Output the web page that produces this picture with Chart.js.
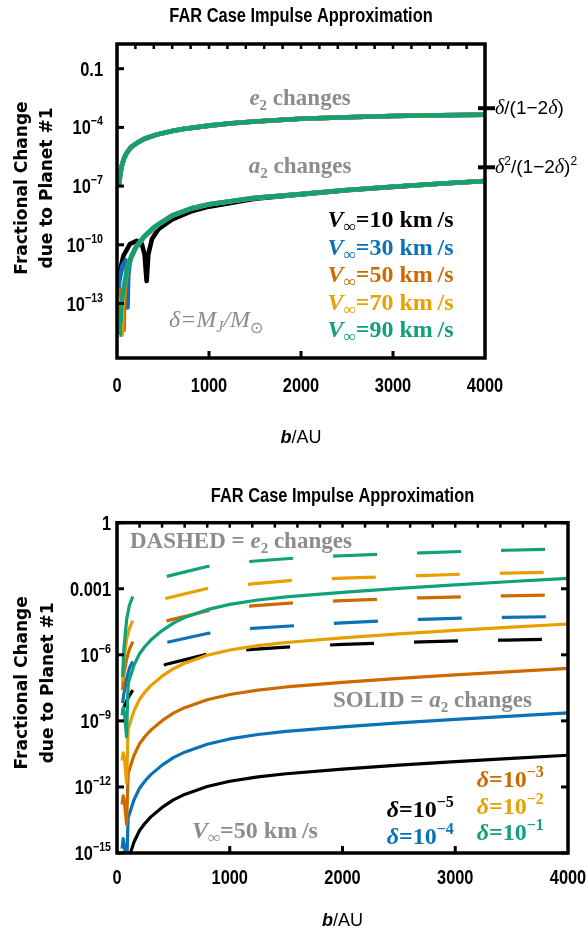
<!DOCTYPE html>
<html>
<head>
<meta charset="utf-8">
<script src="https://cdn.jsdelivr.net/npm/chart.js@4.4.1/dist/chart.umd.min.js"></script>
<style>
html, body { margin: 0; padding: 0; background: #fff; }
#wrap { position: relative; width: 587px; height: 932px; }
canvas { position: absolute; left: 0; }
</style>
</head>
<body>
<div id="wrap">
<canvas id="topChart" width="587" height="470" style="top:0"></canvas>
<canvas id="bottomChart" width="587" height="462" style="top:470px"></canvas>
</div>
<script>
// ---- data (values are log10 of the fractional change) ----
const vInf = [10, 30, 50, 70, 90];
const deltaExp = [-5, -4, -3, -2, -1];
const xTicks = [0, 1000, 2000, 3000, 4000];
const topYTickExp = [-1, -4, -7, -10, -13];
const bottomYTickExp = [0, -3, -6, -9, -12, -15];
const rightTickExp = [-3.02, -6.04]; // delta/(1-2delta), delta^2/(1-2delta)^2 for delta = MJ/Msun

// top panel: e2 changes (all five speeds lie on top of each other)
const e2TopB = [20, 35, 50, 75, 105, 150, 215, 300, 430, 600, 720, 1000, 1250, 1500, 2000, 2500, 3000, 3500, 4000];
const e2TopExp = [-7.0, -6.4, -6.0, -5.6, -5.31, -5.02, -4.8, -4.58, -4.37, -4.18, -4.08, -3.91, -3.79, -3.7, -3.56, -3.48, -3.42, -3.38, -3.35];

// top panel: a2 changes, one curve per V_inf
const a2TopB10 = [8, 20, 70, 140, 215, 270, 300, 322, 340, 380, 450, 600, 800, 1000, 1500, 2000, 2500, 3000, 3500, 4000];
const a2TopExp10 = [-13.0, -11.6, -10.56, -9.96, -9.8, -9.96, -10.5, -11.85, -10.5, -9.7, -9.2, -8.7, -8.3, -8.05, -7.65, -7.43, -7.21, -7.04, -6.88, -6.74];
const a2TopB30 = [10, 25, 60, 96, 106, 114, 122, 135, 150, 200, 300, 450, 600, 800, 1000, 1500, 2000, 2500, 3000, 3500, 4000];
const a2TopExp30 = [-12.6, -11.84, -11.07, -10.8, -11.3, -13.2, -11.6, -11.0, -10.72, -10.2, -9.57, -8.97, -8.52, -8.16, -7.94, -7.61, -7.41, -7.2, -7.03, -6.88, -6.74];
const a2TopB50 = [10, 25, 43, 60, 68, 72, 78, 90, 110, 150, 200, 300, 450, 600, 800, 1000, 1500, 2000, 2500, 3000, 3500, 4000];
const a2TopExp50 = [-13.4, -12.6, -12.3, -12.7, -13.5, -14.35, -13.0, -12.1, -11.3, -10.68, -10.17, -9.56, -8.96, -8.51, -8.15, -7.93, -7.6, -7.41, -7.2, -7.03, -6.88, -6.74];
const a2TopB70 = [10, 22, 35, 45, 50, 53, 58, 70, 90, 120, 150, 200, 300, 450, 600, 800, 1000, 1500, 2000, 2500, 3000, 3500, 4000];
const a2TopExp70 = [-13.8, -13.1, -12.8, -13.3, -14.0, -14.6, -13.3, -12.4, -11.8, -11.1, -10.66, -10.16, -9.55, -8.95, -8.5, -8.15, -7.93, -7.6, -7.41, -7.2, -7.03, -6.88, -6.74];
const a2TopB90 = [28, 30, 35, 40, 50, 70, 100, 150, 200, 300, 400, 600, 800, 1000, 1500, 2000, 2500, 3000, 3500, 4000];
const a2TopExp90 = [-14.6, -14.4, -13.9, -13.6, -13.0, -12.3, -11.5, -10.65, -10.15, -9.55, -9.1, -8.5, -8.15, -7.93, -7.6, -7.41, -7.2, -7.03, -6.88, -6.74];

// bottom panel (V_inf = 50 km/s): solid = a2 changes
const a2BotB = [45, 55, 68, 85, 95, 100, 150, 200, 250, 300, 400, 500, 600, 800, 1000, 1250, 1500, 2000, 2500, 3000, 3500, 4000];
const a2BotBlackB = [100, 150, 200, 250, 300, 400, 500, 600, 800, 1000, 1250, 1500, 2000, 2500, 3000, 3500, 4000];
const a2BotExp5 = [-15.31, -14.51, -13.98, -13.64, -13.36, -12.93, -12.59, -12.34, -11.98, -11.74, -11.54, -11.4, -11.19, -11.01, -10.85, -10.7, -10.56];
const a2BotExp4 = [-14.8, -14.35, -14.8, -15.8, -14.0, -13.39, -12.59, -12.06, -11.72, -11.44, -11.01, -10.67, -10.42, -10.06, -9.82, -9.62, -9.48, -9.27, -9.09, -8.93, -8.78, -8.64];
const a2BotExp3 = [-12.8, -12.4, -12.8, -13.7, -12.0, -11.37, -10.57, -10.04, -9.7, -9.42, -8.99, -8.65, -8.4, -8.04, -7.8, -7.6, -7.46, -7.25, -7.07, -6.91, -6.76, -6.62];
const a2BotExp2 = [-10.8, -10.45, -10.8, -11.8, -9.95, -9.35, -8.55, -8.02, -7.68, -7.4, -6.97, -6.63, -6.38, -6.02, -5.78, -5.58, -5.44, -5.23, -5.05, -4.89, -4.74, -4.6];
const a2BotExp1 = [-8.75, -8.4, -8.75, -9.73, -7.9, -7.28, -6.48, -5.95, -5.61, -5.33, -4.9, -4.56, -4.31, -3.95, -3.71, -3.51, -3.37, -3.16, -2.98, -2.82, -2.67, -2.53];

// bottom panel: dashed = e2 changes
const e2BotB = [50, 60, 85, 110, 140, 200, 300, 430, 800, 1200, 1600, 2000, 2400, 2700, 3100, 3450, 3800, 4000];
const e2BotExp5 = [-8.6, -8.4, -8.1, -7.85, -7.6, -7.25, -6.85, -6.44, -5.97, -5.75, -5.62, -5.53, -5.46, -5.41, -5.36, -5.33, -5.3, -5.28];
const e2BotExp4 = [-8.2, -7.8, -7.1, -6.6, -6.3, -6.0, -5.72, -5.45, -5.03, -4.8, -4.67, -4.55, -4.45, -4.39, -4.33, -4.3, -4.27, -4.25];
const e2BotExp3 = [-7.6, -6.9, -6.2, -5.75, -5.4, -5.1, -4.78, -4.47, -4.01, -3.78, -3.63, -3.54, -3.46, -3.41, -3.36, -3.32, -3.29, -3.27];
const e2BotExp2 = [-7.2, -6.3, -5.3, -4.8, -4.45, -4.1, -3.75, -3.44, -2.99, -2.78, -2.6, -2.52, -2.45, -2.4, -2.33, -2.29, -2.25, -2.23];
const e2BotExp1 = [-7.0, -5.8, -4.42, -3.75, -3.35, -3.05, -2.72, -2.45, -1.99, -1.75, -1.6, -1.5, -1.42, -1.37, -1.3, -1.25, -1.21, -1.19];

// ---- styles ----
const COLORS = ['#000000', '#0b72b5', '#cc6a00', '#e8a000', '#10a07a'];
const GRAY = '#8c8c8c';
const SANS = '"Liberation Sans", Arial, sans-serif';
const WIDE = '"DejaVu Sans", "Liberation Sans", sans-serif';
const SERIF = '"Liberation Serif", "Times New Roman", serif';
const NARROW = 0.82;
const FIRST_DASH_END_B = 140;

function pts(bs, exps) {
    return bs.map(function (b, i) { return { x: b, y: Math.pow(10, exps[i]) }; });
}

function drawRuns(ctx, runs, x, y, align) {
    let w = 0;
    runs.forEach(function (r) { ctx.font = r.f; w += ctx.measureText(r.t).width * (r.sx || 1); });
    let cx = align === 'right' ? x - w : (align === 'center' ? x - w / 2 : x);
    runs.forEach(function (r) {
        ctx.font = r.f;
        const rw = ctx.measureText(r.t).width * (r.sx || 1);
        ctx.save();
        ctx.fillStyle = r.c || '#000';
        ctx.textAlign = 'left';
        ctx.textBaseline = 'alphabetic';
        ctx.translate(cx, y + (r.dy || 0));
        ctx.scale(r.sx || 1, 1);
        ctx.fillText(r.t, 0, 0);
        ctx.restore();
        cx += rw;
    });
}

function tickRuns(e) {
    const base = 'bold 20px ' + SANS;
    if (e === 0) return [{ t: '1', f: base, sx: NARROW }];
    if (e === -1) return [{ t: '0.1', f: base, sx: NARROW }];
    if (e === -3) return [{ t: '0.001', f: base, sx: NARROW }];
    return [{ t: '10', f: base, sx: NARROW }, { t: '\u2212' + (-e), f: 'bold 13px ' + SANS, sx: NARROW, dy: -9 }];
}

function grayLabel(prefix, letter) {
    const runs = [];
    if (prefix) runs.push({ t: prefix, f: 'bold 23px ' + SERIF, c: GRAY });
    runs.push({ t: letter, f: 'italic bold 23px ' + SERIF, c: GRAY });
    runs.push({ t: '2', f: 'bold 15px ' + SERIF, c: GRAY, dy: 5 });
    runs.push({ t: ' changes', f: 'bold 23px ' + SERIF, c: GRAY });
    return runs;
}

function vLabel(v, color) {
    return [
        { t: 'V', f: 'italic bold 24px ' + SERIF, c: color },
        { t: '\u221e', f: 'bold 17px ' + SERIF, c: color, dy: 5 },
        { t: '=' + v + ' km\u2009/s', f: 'bold 24px ' + SERIF, c: color }
    ];
}

function deltaLabel(e, color) {
    return [
        { t: '\u03b4', f: 'italic bold 24px ' + SERIF, c: color },
        { t: '=10', f: 'bold 24px ' + SERIF, c: color },
        { t: '\u2212' + (-e), f: 'bold 16px ' + SERIF, c: color, dy: -10 }
    ];
}

const figurePlugin = {
    id: 'figure',
    afterDraw: function (chart, args, o) {
        const ctx = chart.ctx;
        const a = chart.chartArea;
        const x = chart.scales.x;
        const y = chart.scales.y;
        const cx = (a.left + a.right) / 2;
        ctx.save();

        // frame and ticks
        ctx.strokeStyle = '#000';
        ctx.lineWidth = 2.5;
        for (let b = 200; b < 4000; b += 200) {
            const px = x.getPixelForValue(b);
            ctx.beginPath(); ctx.moveTo(px, a.top); ctx.lineTo(px, a.top + 5); ctx.stroke();
        }
        ctx.lineWidth = 3;
        [1000, 2000, 3000].forEach(function (b) {
            const px = x.getPixelForValue(b);
            ctx.beginPath(); ctx.moveTo(px, a.bottom); ctx.lineTo(px, a.bottom - 7); ctx.stroke();
        });
        o.yTicks.forEach(function (e) {
            const py = y.getPixelForValue(Math.pow(10, e));
            ctx.beginPath(); ctx.moveTo(a.left, py); ctx.lineTo(a.left + 7, py); ctx.stroke();
            if (o.rightTicks) {
                ctx.beginPath(); ctx.moveTo(a.right, py); ctx.lineTo(a.right - 7, py); ctx.stroke();
            }
        });
        ctx.lineWidth = 3.5;
        ctx.strokeRect(a.left, a.top, a.right - a.left, a.bottom - a.top);

        // tick labels
        o.yTicks.forEach(function (e) {
            const py = y.getPixelForValue(Math.pow(10, e));
            drawRuns(ctx, tickRuns(e), a.left - o.yLabelGap, py + 7, 'right');
        });
        xTicks.forEach(function (b) {
            drawRuns(ctx, [{ t: String(b), f: 'bold 20px ' + SANS, sx: NARROW }], x.getPixelForValue(b), a.bottom + o.xLabelDy + 7, 'center');
        });

        // titles
        drawRuns(ctx, [{ t: 'FAR Case Impulse Approximation', f: 'bold 20px ' + SANS, sx: NARROW }], cx, a.top + o.titleDy + 7, 'center');
        drawRuns(ctx, [{ t: 'b', f: 'italic bold 18px ' + SANS }, { t: '/AU', f: '18px ' + SANS }], cx, a.bottom + o.xTitleDy + 6, 'center');
        ctx.fillStyle = '#000';
        ctx.font = 'bold 17px ' + WIDE;
        ctx.textAlign = 'center';
        ctx.textBaseline = 'middle';
        const cy = (a.top + a.bottom) / 2 + o.yTitleDy;
        ['Fractional Change', 'due to Planet #1'].forEach(function (line, i) {
            ctx.save();
            ctx.translate(o.yTitleX[i], cy);
            ctx.rotate(-Math.PI / 2);
            ctx.fillText(line, 0, 0);
            ctx.restore();
        });

        // right-hand limit marks (top panel)
        if (o.limits) {
            o.limits.forEach(function (lim) {
                const py = y.getPixelForValue(Math.pow(10, lim.exp));
                ctx.lineWidth = 4;
                ctx.beginPath(); ctx.moveTo(a.right - 7, py); ctx.lineTo(a.right + 10, py); ctx.stroke();
                drawRuns(ctx, lim.runs, a.right + 10, py + 6, 'left');
            });
        }

        // annotations in data coordinates
        o.notes.forEach(function (n) {
            drawRuns(ctx, n.runs, x.getPixelForValue(n.b), y.getPixelForValue(Math.pow(10, n.exp)), n.align);
        });
        ctx.restore();
    }
};

function lineSet(label, data, color, width, order, extra) {
    return Object.assign({
        label: label,
        data: data,
        borderColor: color,
        borderWidth: width,
        pointRadius: 0,
        fill: false,
        order: order
    }, extra || {});
}

function baseOptions(padding, yMinExp, yMaxExp, fig) {
    return {
        responsive: false,
        animation: false,
        events: [],
        layout: { padding: padding },
        elements: { line: { tension: 0, borderCapStyle: 'butt', borderJoinStyle: 'round' } },
        scales: {
            x: { type: 'linear', min: 0, max: 4000, display: false },
            y: { type: 'logarithmic', min: Math.pow(10, yMinExp), max: Math.pow(10, yMaxExp), display: false }
        },
        plugins: {
            legend: { display: false },
            tooltip: { enabled: false },
            figure: fig
        }
    };
}

// ---- top panel ----
const a2TopB = [a2TopB10, a2TopB30, a2TopB50, a2TopB70, a2TopB90];
const a2TopExp = [a2TopExp10, a2TopExp30, a2TopExp50, a2TopExp70, a2TopExp90];
const topSets = [];
vInf.forEach(function (v, i) {
    topSets.push(lineSet('a2 V=' + v, pts(a2TopB[i], a2TopExp[i]), COLORS[i], 4.6, 10 - i));
    topSets.push(lineSet('e2 V=' + v, pts(e2TopB, e2TopExp), COLORS[i], 4.6, 10 - i));
});

const topNotes = [
    { b: 1990, exp: -2.84, align: 'center', runs: grayLabel('', 'e') },
    { b: 1990, exp: -6.33, align: 'center', runs: grayLabel('', 'a') },
    { b: 565, exp: -14.19, align: 'left', runs: [
        { t: '\u03b4=', f: 'italic 24px ' + SERIF, c: GRAY },
        { t: 'M', f: 'italic 24px ' + SERIF, c: GRAY },
        { t: 'J', f: 'italic 16px ' + SERIF, c: GRAY, dy: 5 },
        { t: '/M', f: 'italic 24px ' + SERIF, c: GRAY },
        { t: '\u2299', f: '16px ' + SERIF, c: GRAY, dy: 6 }
    ] }
];
const vLabelExp = [-9.1, -10.51, -11.92, -13.33, -14.73];
vInf.forEach(function (v, i) {
    topNotes.push({ b: 3658, exp: vLabelExp[i], align: 'right', runs: vLabel(v, COLORS[i]) });
});

const d = { f: 'italic 20px ' + SERIF };
const topLimits = [
    { exp: rightTickExp[0], runs: [
        { t: '\u03b4', f: d.f }, { t: '/(1\u22122', f: '19px ' + SANS }, { t: '\u03b4', f: d.f }, { t: ')', f: '19px ' + SANS }
    ] },
    { exp: rightTickExp[1], runs: [
        { t: '\u03b4', f: d.f }, { t: '2', f: '12px ' + SANS, dy: -8 }, { t: '/(1\u22122', f: '19px ' + SANS },
        { t: '\u03b4', f: d.f }, { t: ')', f: '19px ' + SANS }, { t: '2', f: '12px ' + SANS, dy: -8 }
    ] }
];

new Chart(document.getElementById('topChart'), {
    type: 'line',
    data: { datasets: topSets },
    options: baseOptions({ left: 117, right: 102, top: 44, bottom: 112 }, -15.785, 0.262, {
        yTicks: topYTickExp, rightTicks: false, yLabelGap: 14,
        xLabelDy: 27, xTitleDy: 79, titleDy: -29, yTitleX: [23, 48], yTitleDy: -13,
        limits: topLimits, notes: topNotes
    }),
    plugins: [figurePlugin]
});

// ---- bottom panel ----
const a2BotExp = [a2BotExp5, a2BotExp4, a2BotExp3, a2BotExp2, a2BotExp1];
const e2BotExp = [e2BotExp5, e2BotExp4, e2BotExp3, e2BotExp2, e2BotExp1];
const botSets = [];
deltaExp.forEach(function (e, i) {
    const bs = i === 0 ? a2BotBlackB : a2BotB;
    botSets.push(lineSet('a2 delta=1e' + e, pts(bs, a2BotExp[i]), COLORS[i], 3.2, 10 - i));
    botSets.push(lineSet('e2 delta=1e' + e, pts(e2BotB, e2BotExp[i]), COLORS[i], 3.2, 10 - i, {
        borderDash: [44, 40],
        borderDashOffset: 44,
        segment: {
            borderDash: function (c) { return c.p1.parsed.x <= FIRST_DASH_END_B ? [] : undefined; }
        }
    }));
});

const botNotes = [
    { b: 115, exp: -1.17, align: 'left', runs: grayLabel('DASHED = ', 'e') },
    { b: 1916, exp: -8.38, align: 'left', runs: grayLabel('SOLID = ', 'a') },
    { b: 665, exp: -14.3, align: 'left', runs: vLabel(50, GRAY) }
];
const deltaNoteB = [2392, 2392, 3190, 3190, 3190];
const deltaNoteExp = [-13.36, -14.57, -12.0, -13.21, -14.42];
deltaExp.forEach(function (e, i) {
    botNotes.push({ b: deltaNoteB[i], exp: deltaNoteExp[i], align: 'left', runs: deltaLabel(e, COLORS[i]) });
});

new Chart(document.getElementById('bottomChart'), {
    type: 'line',
    data: { datasets: botSets },
    options: baseOptions({ left: 117, right: 19, top: 52.7, bottom: 79 }, -15, 0, {
        yTicks: bottomYTickExp, rightTicks: true, yLabelGap: 6,
        xLabelDy: 24, xTitleDy: 67, titleDy: -27.7, yTitleX: [23, 49], yTitleDy: -5,
        limits: null, notes: botNotes
    }),
    plugins: [figurePlugin]
});
</script>
</body>
</html>
